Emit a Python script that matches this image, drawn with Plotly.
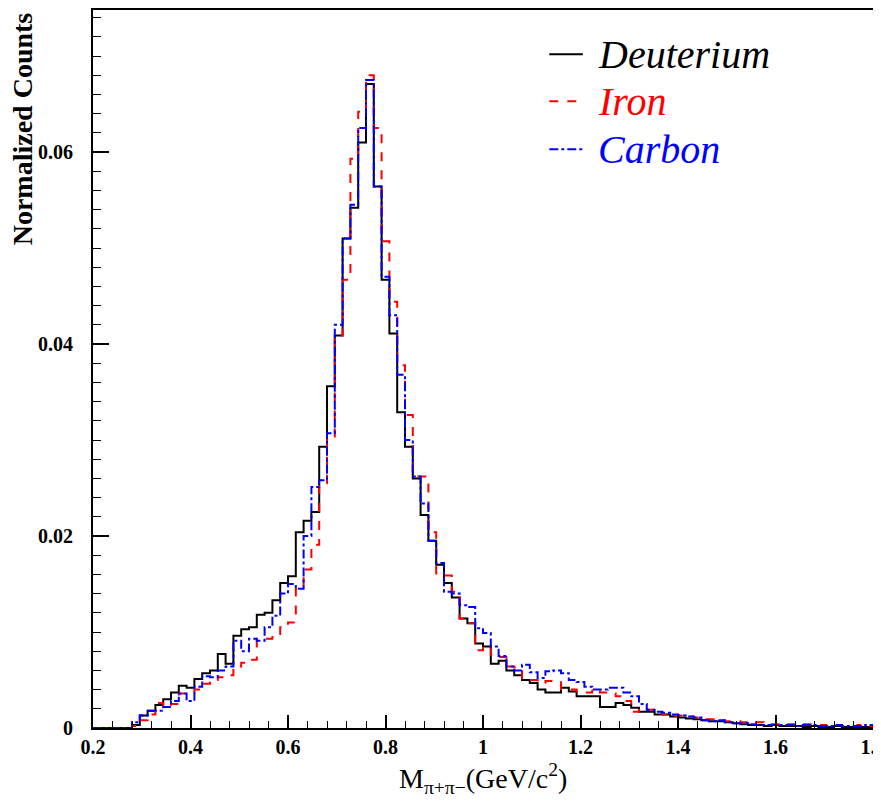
import numpy as np
import plotly.graph_objects as go

# 100 bins of 0.016 GeV/c^2 between 0.2 and 1.8
bin_lo = 0.2
bin_hi = 1.8
n_bins = 100

deuterium = [
    0, 0, 0, 0, 0, 0.0003, 0.0013, 0.0018, 0.0024, 0.0030,
    0.0037, 0.0044, 0.0042, 0.0051, 0.0057, 0.0060, 0.0077, 0.0067, 0.0096, 0.0103,
    0.0105, 0.0118, 0.0120, 0.0133, 0.0151, 0.0158, 0.0204, 0.0216, 0.0225, 0.0293,
    0.0356, 0.0409, 0.0510, 0.0542, 0.0610, 0.0671, 0.0564, 0.0467, 0.0411, 0.0329,
    0.0293, 0.0260, 0.0222, 0.0195, 0.0170, 0.0151, 0.0136, 0.0114, 0.0109, 0.0088,
    0.0085, 0.0067, 0.0070, 0.0060, 0.0055, 0.0050, 0.0047, 0.0040, 0.0037, 0.0037,
    0.0042, 0.0038, 0.0033, 0.0033, 0.0033, 0.0022, 0.0022, 0.0026, 0.0024, 0.0021,
    0.0017, 0.0017, 0.0014, 0.0014, 0.0012, 0.0011, 0.0010, 0.0009, 0.0008, 0.0007,
    0.0007, 0.0006, 0.0005, 0.0004, 0.0003, 0.0003, 0.0002, 0.0003, 0.0002, 0.0002,
    0.0002, 0.0001, 0.0002, 0.0001, 0.0001, 0.0002, 0.0001, 0.0001, 0.0001, 0.0001,
]

iron = [
    0, 0, 0, 0, 0, 0.0002, 0.0008, 0.0014, 0.0026, 0.0022,
    0.0025, 0.0036, 0.0037, 0.0040, 0.0046, 0.0050, 0.0053, 0.0055, 0.0064, 0.0068,
    0.0071, 0.0093, 0.0093, 0.0096, 0.0105, 0.0110, 0.0145, 0.0165, 0.0191, 0.0255,
    0.0302, 0.0409, 0.0467, 0.0593, 0.0642, 0.0680, 0.0625, 0.0507, 0.0444, 0.0378,
    0.0326, 0.0262, 0.0262, 0.0204, 0.0161, 0.0159, 0.0142, 0.0114, 0.0109, 0.0081,
    0.0085, 0.0076, 0.0074, 0.0064, 0.0063, 0.0052, 0.0050, 0.0047, 0.0049, 0.0049,
    0.0040, 0.0040, 0.0038, 0.0037, 0.0040, 0.0037, 0.0036, 0.0033, 0.0028, 0.0017,
    0.0021, 0.0019, 0.0016, 0.0014, 0.0012, 0.0013, 0.0012, 0.0011, 0.0009, 0.0009,
    0.0008, 0.0007, 0.0007, 0.0006, 0.0005, 0.0006, 0.0005, 0.0004, 0.0005, 0.0004,
    0.0003, 0.0004, 0.0003, 0.0003, 0.0002, 0.0003, 0.0002, 0.0002, 0.0003, 0.0002,
]

carbon = [
    0, 0, 0, 0, 0, 0.0006, 0.0013, 0.0018, 0.0018, 0.0022,
    0.0028, 0.0036, 0.0028, 0.0043, 0.0054, 0.0053, 0.0060, 0.0064, 0.0091, 0.0080,
    0.0093, 0.0091, 0.0105, 0.0117, 0.0140, 0.0150, 0.0145, 0.0200, 0.0251, 0.0258,
    0.0307, 0.0420, 0.0510, 0.0545, 0.0625, 0.0675, 0.0564, 0.0470, 0.0430, 0.0368,
    0.0300, 0.0262, 0.0234, 0.0195, 0.0172, 0.0142, 0.0140, 0.0128, 0.0126, 0.0104,
    0.0099, 0.0085, 0.0075, 0.0064, 0.0060, 0.0066, 0.0058, 0.0052, 0.0059, 0.0060,
    0.0057, 0.0050, 0.0048, 0.0043, 0.0040, 0.0040, 0.0042, 0.0042, 0.0037, 0.0033,
    0.0025, 0.0019, 0.0017, 0.0016, 0.0014, 0.0013, 0.0012, 0.0011, 0.0008, 0.0007,
    0.0008, 0.0006, 0.0005, 0.0005, 0.0004, 0.0003, 0.0003, 0.0003, 0.0003, 0.0003,
    0.0002, 0.0003, 0.0003, 0.0002, 0.0002, 0.0003, 0.0002, 0.0002, 0.0002, 0.0003,
]

edges = np.linspace(bin_lo, bin_hi, n_bins + 1)

series = [
    ("Deuterium", deuterium, "black", "solid"),
    ("Iron", iron, "red", "dash"),
    ("Carbon", carbon, "blue", "dashdot"),
]

fig = go.Figure()
for name, vals, color, dash in series:
    # step histogram: last value repeated so the final bin gets its top edge
    fig.add_trace(go.Scatter(
        x=edges, y=list(vals) + [vals[-1]],
        mode="lines", line_shape="hv",
        line=dict(color=color, width=2, dash=dash),
        name=name, showlegend=False,
    ))

# ROOT-like legend: line sample + coloured italic label per entry
legend_rows = [0.9385, 0.873, 0.806]
for (name, vals, color, dash), ly in zip(series, legend_rows):
    fig.add_shape(type="line", xref="paper", yref="paper",
                  x0=0.585, x1=0.628, y0=ly, y1=ly,
                  line=dict(color=color, width=2, dash=dash))
    fig.add_annotation(
        xref="paper", yref="paper", x=0.645, y=ly, xanchor="left", yanchor="middle",
        text=f"<i>{name}</i>", showarrow=False,
        font=dict(family="Liberation Serif", size=40, color=color),
    )

tick_font = dict(family="Liberation Serif", size=20, color="black", weight="bold")

# the page adds ~8px body margin, so the figure is a bit smaller than the window
fig.update_layout(
    width=873, height=795,
    margin=dict(l=85, r=8, t=2, b=75),
    paper_bgcolor="white", plot_bgcolor="white",
)

fig.update_xaxes(
    # tiny pad so the 1.8 tick survives float rounding
    range=[bin_lo, bin_hi + 1e-9], dtick=0.2, tick0=0.2,
    showgrid=False, zeroline=False, automargin=False,
    showline=True, linecolor="black", linewidth=2, mirror=True,
    ticks="inside", ticklen=13, tickwidth=1.5, tickcolor="black",
    minor=dict(dtick=0.04, ticks="inside", ticklen=7, tickwidth=1, tickcolor="black"),
    tickfont=tick_font, ticklabeloverflow="allow",
)
fig.update_yaxes(
    range=[0, 0.0748], dtick=0.02, tick0=0,
    showgrid=False, zeroline=False,
    showline=True, linecolor="black", linewidth=2, mirror=True,
    ticks="inside", ticklen=16, tickwidth=1.5, tickcolor="black",
    minor=dict(dtick=0.002, ticks="inside", ticklen=8, tickwidth=1, tickcolor="black"),
    tickfont=tick_font, ticklabelstandoff=14,
)

# axis titles, ROOT style
fig.add_annotation(
    xref="paper", yref="paper", x=0.5, y=-0.07, xanchor="center", yanchor="middle",
    text="M<sub>π+π−</sub>(GeV/c<sup>2</sup>)", showarrow=False,
    font=dict(family="Liberation Serif", size=28, color="black"),
)
fig.add_annotation(
    xref="paper", yref="paper", x=-0.09, y=1.0, xanchor="center", yanchor="top",
    text="<b>Normalized Counts</b>", textangle=-90, showarrow=False,
    font=dict(family="Liberation Serif", size=28, color="black"),
)

fig.write_html("out.html")
